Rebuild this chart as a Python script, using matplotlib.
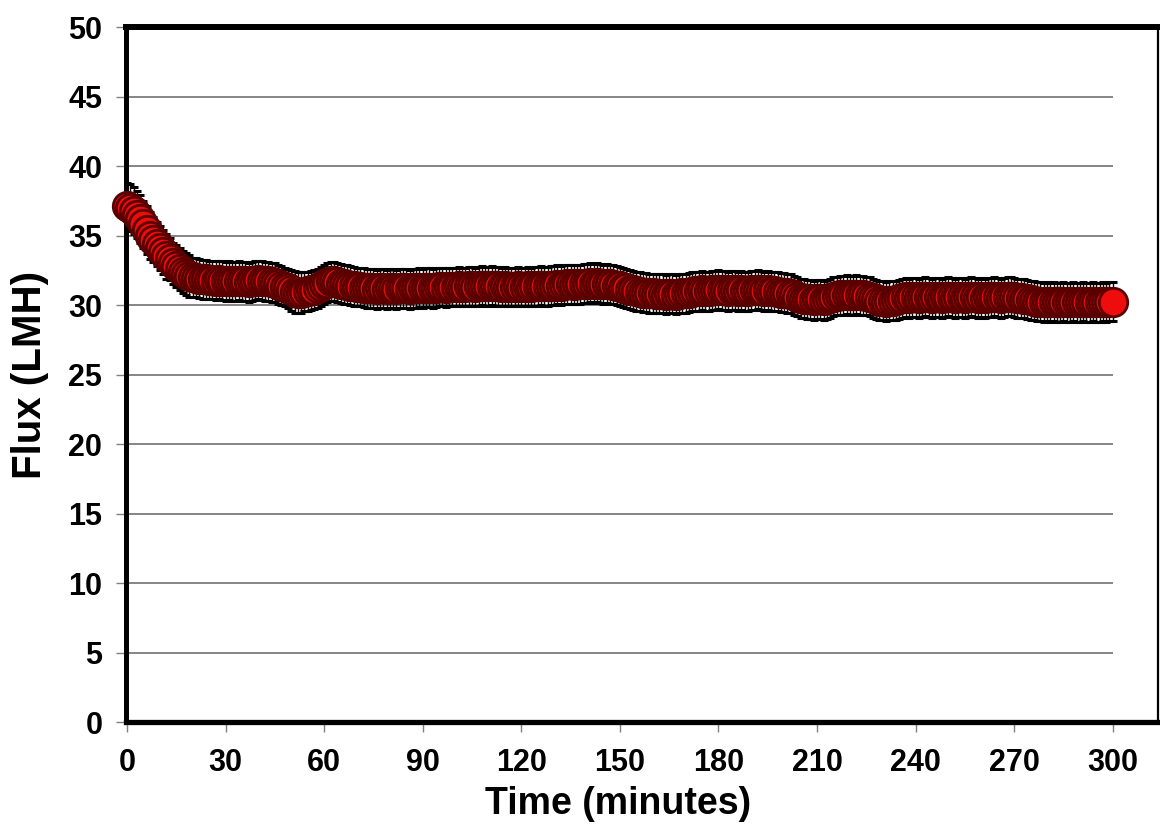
import matplotlib
matplotlib.use("Agg")
import matplotlib.pyplot as plt

# Permeate flux recorded once per minute over a 300-minute run
time_min = list(range(0, 301))

flux_lmh = [
    37.1, 37.0, 36.8, 36.5, 36.2, 35.8, 35.4, 35.0, 34.7, 34.4,
    34.1, 33.8, 33.5, 33.3, 33.0, 32.8, 32.6, 32.4, 32.25, 32.1,
    32.0, 31.95, 31.9, 31.85, 31.85, 31.8, 31.8, 31.75, 31.8, 31.75,
    31.7, 31.75, 31.7, 31.7, 31.75, 31.7, 31.7, 31.65, 31.7, 31.75,
    31.8, 31.75, 31.7, 31.7, 31.65, 31.6, 31.5, 31.4, 31.3, 31.2,
    31.05, 30.95, 30.9, 30.9, 30.95, 31.0, 31.05, 31.1, 31.2, 31.35,
    31.5, 31.6, 31.7, 31.7, 31.65, 31.55, 31.5, 31.45, 31.4, 31.35,
    31.3, 31.3, 31.25, 31.2, 31.2, 31.2, 31.15, 31.2, 31.2, 31.15,
    31.2, 31.2, 31.15, 31.2, 31.2, 31.2, 31.15, 31.2, 31.2, 31.25,
    31.2, 31.25, 31.25, 31.2, 31.25, 31.3, 31.3, 31.25, 31.3, 31.3,
    31.3, 31.35, 31.3, 31.3, 31.35, 31.35, 31.3, 31.35, 31.4, 31.35,
    31.35, 31.4, 31.35, 31.35, 31.3, 31.35, 31.3, 31.3, 31.3, 31.35,
    31.3, 31.3, 31.35, 31.3, 31.35, 31.35, 31.4, 31.35, 31.35, 31.4,
    31.4, 31.45, 31.4, 31.45, 31.5, 31.5, 31.45, 31.5, 31.5, 31.55,
    31.55, 31.6, 31.55, 31.6, 31.55, 31.5, 31.55, 31.5, 31.45, 31.4,
    31.35, 31.25, 31.2, 31.1, 31.05, 31.0, 30.95, 30.9, 30.9, 30.85,
    30.85, 30.8, 30.8, 30.8, 30.75, 30.8, 30.8, 30.75, 30.8, 30.85,
    30.85, 30.9, 30.95, 31.0, 31.0, 31.05, 31.0, 31.0, 31.05, 31.05,
    31.1, 31.05, 31.05, 31.0, 31.05, 31.05, 31.0, 31.05, 31.0, 31.0,
    31.05, 31.05, 31.1, 31.05, 31.0, 31.05, 31.0, 31.0, 30.95, 30.9,
    30.9, 30.85, 30.8, 30.7, 30.6, 30.5, 30.45, 30.4, 30.4, 30.35,
    30.4, 30.4, 30.35, 30.4, 30.5, 30.6, 30.65, 30.7, 30.7, 30.75,
    30.7, 30.7, 30.75, 30.7, 30.7, 30.65, 30.6, 30.5, 30.4, 30.3,
    30.3, 30.25, 30.3, 30.3, 30.35, 30.4, 30.5, 30.55, 30.5, 30.55,
    30.55, 30.5, 30.55, 30.6, 30.55, 30.5, 30.55, 30.55, 30.5, 30.55,
    30.6, 30.55, 30.5, 30.55, 30.55, 30.5, 30.55, 30.6, 30.55, 30.5,
    30.55, 30.5, 30.55, 30.55, 30.6, 30.55, 30.5, 30.55, 30.6, 30.6,
    30.55, 30.5, 30.5, 30.45, 30.4, 30.35, 30.3, 30.25, 30.25, 30.2,
    30.25, 30.2, 30.25, 30.2, 30.2, 30.25, 30.2, 30.2, 30.25, 30.2,
    30.2, 30.25, 30.2, 30.2, 30.25, 30.2, 30.2, 30.25, 30.2, 30.25,
    30.25,
]

# Standard deviation of the flux at each minute
flux_sd = [
    1.7, 1.7, 1.7, 1.7, 1.7, 1.7, 1.7, 1.7, 1.6, 1.6,
    1.6, 1.6, 1.6, 1.5, 1.5, 1.5, 1.5, 1.5, 1.5, 1.5,
    1.4, 1.4, 1.4, 1.4, 1.4, 1.4, 1.4, 1.4, 1.4, 1.4,
    1.4, 1.4, 1.4, 1.4, 1.4, 1.4, 1.4, 1.4, 1.4, 1.4,
    1.4, 1.4, 1.4, 1.4, 1.4, 1.4, 1.4, 1.4, 1.4, 1.4,
    1.5, 1.5, 1.5, 1.5, 1.4, 1.4, 1.4, 1.4, 1.4, 1.4,
    1.4, 1.4, 1.4, 1.4, 1.4, 1.4, 1.4, 1.4, 1.4, 1.4,
    1.4, 1.4, 1.4, 1.4, 1.4, 1.4, 1.4, 1.4, 1.4, 1.4,
    1.4, 1.4, 1.4, 1.4, 1.4, 1.4, 1.4, 1.4, 1.4, 1.4,
    1.4, 1.4, 1.4, 1.4, 1.4, 1.4, 1.4, 1.4, 1.4, 1.4,
    1.4, 1.4, 1.4, 1.4, 1.4, 1.4, 1.4, 1.4, 1.4, 1.4,
    1.4, 1.4, 1.4, 1.4, 1.4, 1.4, 1.4, 1.4, 1.4, 1.4,
    1.4, 1.4, 1.4, 1.4, 1.4, 1.4, 1.4, 1.4, 1.4, 1.4,
    1.4, 1.4, 1.4, 1.4, 1.4, 1.4, 1.4, 1.4, 1.4, 1.4,
    1.4, 1.4, 1.4, 1.4, 1.4, 1.4, 1.4, 1.4, 1.4, 1.4,
    1.4, 1.4, 1.4, 1.4, 1.4, 1.4, 1.4, 1.4, 1.4, 1.4,
    1.4, 1.4, 1.4, 1.4, 1.4, 1.4, 1.4, 1.4, 1.4, 1.4,
    1.4, 1.4, 1.4, 1.4, 1.4, 1.4, 1.4, 1.4, 1.4, 1.4,
    1.4, 1.4, 1.4, 1.4, 1.4, 1.4, 1.4, 1.4, 1.4, 1.4,
    1.4, 1.4, 1.4, 1.4, 1.4, 1.4, 1.4, 1.4, 1.4, 1.4,
    1.4, 1.4, 1.4, 1.4, 1.4, 1.4, 1.4, 1.4, 1.4, 1.4,
    1.4, 1.4, 1.4, 1.4, 1.4, 1.4, 1.4, 1.4, 1.4, 1.4,
    1.4, 1.4, 1.4, 1.4, 1.4, 1.4, 1.4, 1.4, 1.4, 1.4,
    1.4, 1.4, 1.4, 1.4, 1.4, 1.4, 1.4, 1.4, 1.4, 1.4,
    1.4, 1.4, 1.4, 1.4, 1.4, 1.4, 1.4, 1.4, 1.4, 1.4,
    1.4, 1.4, 1.4, 1.4, 1.4, 1.4, 1.4, 1.4, 1.4, 1.4,
    1.4, 1.4, 1.4, 1.4, 1.4, 1.4, 1.4, 1.4, 1.4, 1.4,
    1.4, 1.4, 1.4, 1.4, 1.4, 1.4, 1.4, 1.4, 1.4, 1.4,
    1.4, 1.4, 1.4, 1.4, 1.4, 1.4, 1.4, 1.4, 1.4, 1.4,
    1.4, 1.4, 1.4, 1.4, 1.4, 1.4, 1.4, 1.4, 1.4, 1.4,
    1.4,
]

x_ticks = [0, 30, 60, 90, 120, 150, 180, 210, 240, 270, 300]
y_ticks = [0, 5, 10, 15, 20, 25, 30, 35, 40, 45, 50]

plt.rcParams["font.family"] = ["Liberation Sans", "DejaVu Sans"]
plt.rcParams["font.weight"] = "bold"

fig = plt.figure(figsize=(11.6, 8.25), dpi=100)
ax = fig.add_axes([0.1086, 0.1248, 0.8897, 0.8424])

ax.set_xlim(-0.3, 313.8)
ax.set_ylim(0, 50)

# Horizontal gridlines only over the measured time span
ax.hlines(y_ticks[1:-1], -0.3, x_ticks[-1], colors="#858585", linewidth=1.4, zorder=1)

ax.errorbar(time_min, flux_lmh, yerr=flux_sd, fmt="none", ecolor="black",
            elinewidth=1.0, capsize=3, capthick=2.2, zorder=2)
ax.plot(time_min, flux_lmh, linestyle="none", marker="o", markersize=20.5,
        markerfacecolor="#ee0c0c", markeredgecolor="#5a0000",
        markeredgewidth=2.0, zorder=3, clip_on=False)

ax.set_xticks(x_ticks)
ax.set_yticks(y_ticks)
ax.tick_params(axis="both", direction="out", length=7, width=1.0,
               color="#808080", labelsize=22, labelcolor="black")
ax.tick_params(axis="x", pad=12)
ax.tick_params(axis="y", pad=10)
for lbl in ax.get_xticklabels() + ax.get_yticklabels():
    lbl.set_fontweight("bold")

for side, lw in (("top", 4.3), ("left", 3.6), ("bottom", 3.8), ("right", 1.6)):
    ax.spines[side].set_linewidth(lw)
    ax.spines[side].set_color("black")

ax.set_xlabel("Time (minutes)", fontsize=27, fontweight="bold", va="center")
ax.set_ylabel("Flux (LMH)", fontsize=29, fontweight="bold", va="center")
ax.xaxis.set_label_coords(0.477, -0.118)
ax.yaxis.set_label_coords(-0.093, 0.5)

fig.savefig("out.png", dpi=100, facecolor="white")
